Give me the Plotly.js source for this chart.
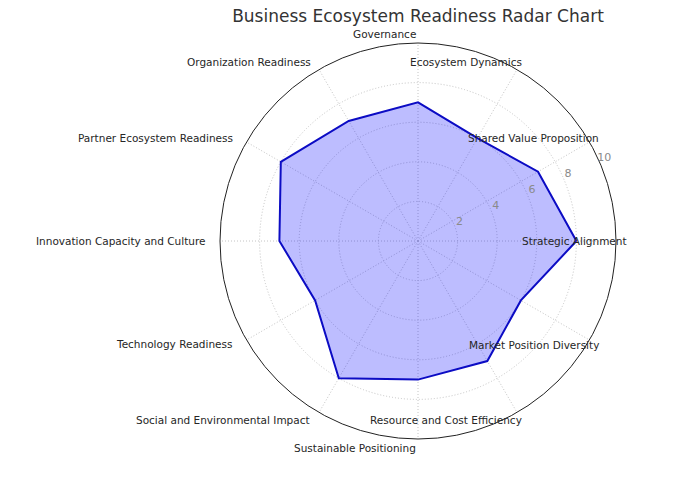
<!DOCTYPE html>
<html>
<head>
<meta charset="utf-8">
<script src="https://cdn.plot.ly/plotly-3.0.1.min.js"></script>
<style>html,body{margin:0;padding:0;background:#fff;}#chart{width:694px;height:487px;}</style>
</head>
<body>
<div id="chart"></div>
<script>
const categories = [
  "Strategic Alignment",
  "Shared Value Proposition",
  "Ecosystem Dynamics",
  "Governance",
  "Organization Readiness",
  "Partner Ecosystem Readiness",
  "Innovation Capacity and Culture",
  "Technology Readiness",
  "Social and Environmental Impact",
  "Sustainable Positioning",
  "Resource and Cost Efficiency",
  "Market Position Diversity"
];
const values = [8, 7, 6, 7, 7, 8, 7, 6, 8, 7, 7, 6];
const radialTicks = [2, 4, 6, 8, 10];
const titleText = "Business Ecosystem Readiness Radar Chart";

const closedTheta = categories.concat([categories[0]]);
const closedR = values.concat([values[0]]);

const W = 694, H = 487;
const CX = 418, CY = 241, RAD = 198;   // polar placement in pixels
const RMAX = 10;                        // radial range of the chart
const RMAX2 = 11;                       // radial range of the tick-label overlay
const LABEL_X = 211, LABEL_Y = 207;     // label anchor distance from centre
const TICK_ANGLE = 24;                  // direction of radial tick labels (deg)
const TICK_OFFSET = 0.3;                // radial tick label offset (data units)
const font = "DejaVu Sans, Verdana, sans-serif";

const traces = [
  {
    type: "scatterpolar",
    subplot: "polar",
    theta: closedTheta,
    r: closedR,
    mode: "lines",
    fill: "toself",
    fillcolor: "rgba(0,0,255,0.26)",
    line: {color: "#0c0cc4", width: 2},
    hoverinfo: "skip",
    showlegend: false
  },
  {
    type: "scatterpolar",
    subplot: "polar2",
    theta: radialTicks.map(() => TICK_ANGLE),
    r: radialTicks.map(v => v + TICK_OFFSET),
    mode: "text",
    text: radialTicks.map(String),
    textposition: "middle center",
    textfont: {family: font, size: 11, color: "#8a8a8a"},
    cliponaxis: false,
    hoverinfo: "skip",
    showlegend: false
  }
];

const annotations = categories.map((c, i) => {
  const a = i * 2 * Math.PI / categories.length;
  const px = CX + LABEL_X * Math.cos(a);
  const py = CY - LABEL_Y * Math.sin(a);
  return {
    text: c,
    xref: "paper", yref: "paper",
    x: px / W, y: 1 - py / H,
    xanchor: "right", yanchor: "middle",
    showarrow: false,
    font: {family: font, size: 10.5, color: "#262626"}
  };
});

function domainFor(radPx) {
  return {x: [(CX - radPx) / W, (CX + radPx) / W], y: [1 - (CY + radPx) / H, 1 - (CY - radPx) / H]};
}

const layout = {
  width: W,
  height: H,
  margin: {l: 0, r: 0, t: 0, b: 0},
  paper_bgcolor: "#ffffff",
  font: {family: font},
  showlegend: false,
  annotations: annotations,
  title: {
    text: titleText,
    font: {family: font, size: 17, color: "#333333"},
    x: CX / W,
    xanchor: "center",
    y: 1 - 16 / H,
    yanchor: "middle"
  },
  polar: {
    domain: domainFor(RAD),
    bgcolor: "rgba(0,0,0,0)",
    radialaxis: {
      range: [0, RMAX],
      tickvals: radialTicks,
      angle: 22.5,
      showticklabels: false,
      showline: false,
      ticks: "",
      gridcolor: "#c4c4c4",
      griddash: "1px,2px",
      gridwidth: 1
    },
    angularaxis: {
      type: "category",
      categoryarray: categories,
      rotation: 0,
      direction: "counterclockwise",
      showticklabels: false,
      ticks: "",
      showline: true,
      linecolor: "#222222",
      linewidth: 1,
      gridcolor: "#c4c4c4",
      griddash: "1px,2px",
      gridwidth: 1
    }
  },
  polar2: {
    domain: domainFor(RAD * RMAX2 / RMAX),
    bgcolor: "rgba(0,0,0,0)",
    radialaxis: {
      range: [0, RMAX2],
      showgrid: false, showline: false, showticklabels: false, ticks: ""
    },
    angularaxis: {
      type: "linear",
      rotation: 0,
      direction: "counterclockwise",
      showgrid: false, showline: false, showticklabels: false, ticks: ""
    }
  }
};

Plotly.newPlot("chart", traces, layout, {displayModeBar: false, staticPlot: true});
</script>
</body>
</html>
